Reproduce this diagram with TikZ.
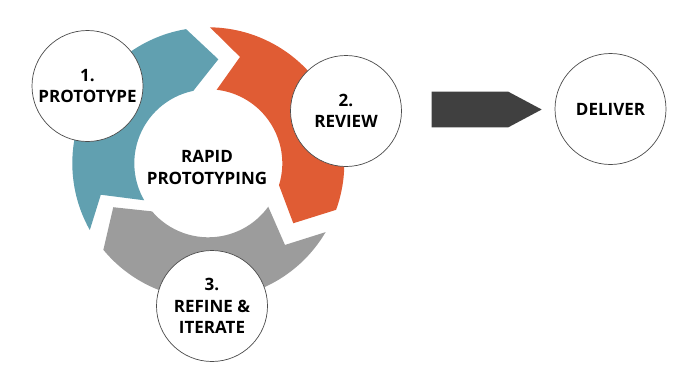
\documentclass[tikz,border=0pt]{standalone}
\usepackage{fontspec}
\setmainfont{Open Sans}
\definecolor{tealc}{RGB}{97,160,176}
\definecolor{orngc}{RGB}{224,92,52}
\definecolor{grayc}{RGB}{156,156,156}
\definecolor{darkc}{RGB}{64,64,64}
\begin{document}
\begin{tikzpicture}[x=1pt,y=1pt,
  stage/.style={circle, draw=black!70, line width=0.7pt, fill=white, minimum size=111pt, inner sep=0pt, align=center, font=\bfseries\fontsize{17}{21.5}\selectfont},
  lbl/.style={align=center, font=\bfseries\fontsize{17}{21.5}\selectfont}]
\useasboundingbox (0,0) rectangle (684,-375);
\begin{scope}[shift={(208.3,-163.3)}]
\fill[tealc] (209.4:136) arc[start angle=209.4, end angle=99.4, radius=136] -- (84.5:104.5) -- (101.7:74) arc[start angle=101.7, end angle=210, radius=74] -- (196.3:112) -- cycle;
\fill[orngc] (89.3:136) arc[start angle=89.3, end angle=-20, radius=136] -- (-35.2:104) -- (-17.2:74) arc[start angle=-17.2, end angle=83.5, radius=74] -- (73.4:111) -- cycle;
\fill[grayc] (-30.4:136) arc[start angle=-30.4, end angle=-140.5, radius=136] -- (-155.2:104.7) -- (-139.5:74) arc[start angle=-139.5, end angle=-35.9, radius=74] -- (-46.8:112) -- cycle;
\end{scope}
\node[lbl] (core) at (207,-167.5) {RAPID\\PROTOTYPING};
\node[stage] (p1) at (87.5,-86) {1.\\PROTOTYPE};
\node[stage] (p2) at (346,-111) {2.\\REVIEW};
\node[stage] (p3) at (212,-306) {3.\\REFINE \&\\ITERATE};
\node[stage] (dl) at (610.5,-109) {DELIVER};
\coordinate (a1) at (431.7,-91.7);
\coordinate (a2) at (508.3,-91.7);
\coordinate (a3) at (541.7,-109.5);
\coordinate (a4) at (508.3,-127.3);
\coordinate (a5) at (431.7,-127.3);
\fill[darkc] (a1) -- (a2) -- (a3) -- (a4) -- (a5) -- cycle;
\end{tikzpicture}
\end{document}
